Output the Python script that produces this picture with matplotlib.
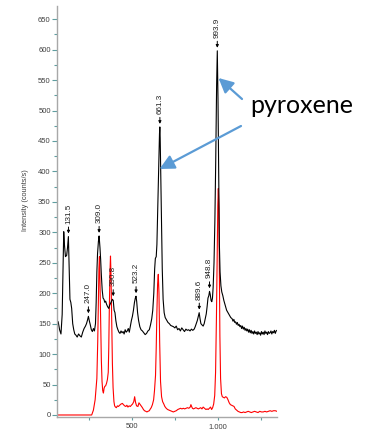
import matplotlib
matplotlib.use("Agg")
import matplotlib.pyplot as plt
from matplotlib.patches import FancyArrowPatch, ArrowStyle
from matplotlib.ticker import FixedLocator, MultipleLocator

# ---------------- data ----------------
black_x = [72, 80, 88, 95, 100, 104, 108, 114, 121, 126, 131, 135, 140, 145, 150, 156, 162, 168, 175, 182,
           190, 198, 206, 214, 222, 230, 236, 242, 247, 252, 258, 264, 270, 276, 282, 288, 292, 296, 300, 305,
           309, 314, 318, 322, 327, 332, 337, 342, 347, 352, 358, 365, 370, 375, 380, 386, 391, 396, 401, 406,
           412, 418, 424, 430, 436, 442, 448, 454, 460, 466, 472, 478, 484, 490, 496, 502, 508, 514, 519, 523,
           527, 532, 538, 545, 552, 560, 568, 576, 584, 592, 600, 607, 614, 620, 626, 631, 635, 640, 644, 648,
           652, 656, 659, 661, 663, 666, 670, 675, 680, 686, 692, 700, 708, 716, 724, 732, 740, 748, 756, 764,
           772, 780, 788, 796, 804, 812, 820, 828, 836, 844, 852, 860, 866, 872, 878, 884, 889, 894, 899, 905,
           912, 918, 924, 930, 935, 940, 945, 949, 953, 958, 962, 966, 970, 975, 980, 985, 990, 994, 998, 1002,
           1006, 1010, 1015, 1020, 1026, 1032, 1040, 1048, 1056, 1064, 1072, 1080, 1085, 1090, 1095, 1100, 1105,
           1110, 1115, 1120, 1125, 1130, 1135, 1140, 1145, 1150, 1155, 1160, 1165, 1170, 1175, 1180, 1185, 1190,
           1195, 1200, 1205, 1210, 1215, 1220, 1225, 1230, 1235, 1240, 1245, 1250, 1255, 1260, 1265, 1270, 1275,
           1280, 1285, 1290, 1295, 1300, 1305, 1310, 1315, 1320, 1325, 1330, 1335, 1340]
black_y = [153, 140, 133, 165, 240, 301, 280, 260, 262, 275, 293, 250, 190, 185, 175, 150, 140, 133, 131, 128,
           133, 130, 128, 136, 142, 146, 150, 156, 162, 155, 148, 140, 137, 142, 138, 150, 185, 235, 265, 285,
           294, 275, 255, 230, 205, 192, 190, 185, 187, 182, 178, 175, 180, 183, 186, 190, 188, 172, 168, 155,
           145, 140, 136, 134, 138, 135, 137, 133, 140, 136, 138, 142, 136, 146, 155, 162, 172, 185, 192, 195,
           186, 168, 155, 145, 140, 138, 135, 132, 134, 138, 140, 148, 158, 172, 200, 240, 257, 260, 280, 330,
           380, 430, 462, 473, 455, 400, 320, 240, 190, 168, 160, 156, 152, 150, 147, 146, 145, 143, 146, 140,
           142, 138, 143, 140, 137, 141, 139, 140, 138, 141, 139, 141, 145, 150, 155, 162, 168, 158, 150, 148,
           146, 150, 158, 166, 178, 192, 196, 203, 198, 188, 186, 192, 210, 250, 320, 420, 540, 598, 520, 400,
           280, 235, 212, 202, 196, 188, 180, 172, 168, 164, 160, 158, 154, 157, 152, 153, 149,
           152, 147, 149, 145, 147, 142, 146, 141, 144, 139, 142, 138, 141, 136, 140, 135, 139,
           134, 137, 133, 138, 134, 136, 132, 137, 133, 135, 131, 137, 133, 136, 132, 138, 134,
           136, 132, 137, 134, 135, 138, 133, 137, 135, 139, 134, 138, 139]

red_x = [65, 150, 266, 276, 286, 296, 301, 305, 308, 311, 314, 318, 322, 326, 330, 334, 338, 342, 347, 352,
         357, 362, 365, 368, 372, 375, 378, 382, 386, 390, 395, 399, 404, 409, 415, 421, 428, 436, 444, 450,
         457, 464, 470, 476, 483, 490, 496, 503, 510, 515, 520, 526, 534, 540, 545, 553, 560, 566, 572, 580,
         586, 592, 600, 606, 611, 618, 625, 630, 636, 640, 644, 648, 652, 656, 660, 665, 671, 677, 684, 690,
         698, 706, 714, 722, 730, 739, 748, 756, 765, 773, 781, 789, 797, 805, 813, 821, 829, 837, 841, 845,
         850, 856, 863, 870, 877, 884, 891, 898, 905, 912, 920, 928, 935, 941, 948, 955, 961, 967, 973, 979,
         984, 989, 993, 997, 1000, 1003, 1006, 1009, 1013, 1018, 1023, 1029, 1035, 1042, 1049, 1056, 1063, 1070,
         1077, 1084, 1091, 1098, 1106, 1114, 1122, 1130, 1138, 1146, 1155, 1164, 1173, 1182, 1191, 1200, 1210,
         1220, 1230, 1240, 1250, 1260, 1270, 1280, 1290, 1300, 1310, 1320, 1330, 1340]
red_y = [0, 0, 0, 8, 25, 60, 120, 190, 240, 260, 220, 150, 90, 55, 40, 36, 44, 47, 48, 52,
         58, 70, 110, 170, 235, 261, 230, 160, 85, 45, 22, 15, 13, 12, 15, 14, 16, 18, 19, 17,
         15, 14, 16, 13, 15, 14, 16, 18, 22, 30, 21, 15, 14, 20, 18, 15, 12, 9, 7, 6,
         5, 6, 7, 10, 12, 17, 25, 40, 65, 110, 170, 215, 231, 200, 120, 55, 30, 22, 18, 14,
         11, 9, 8, 7, 6, 5, 6, 7, 9, 10, 11, 10, 11, 10, 11, 12, 11, 13, 17, 14,
         11, 10, 11, 12, 11, 10, 11, 12, 10, 13, 11, 9, 10, 9, 11, 13, 9, 12, 18, 32,
         70, 160, 260, 345, 372, 340, 240, 130, 60, 35, 30, 29, 28, 30, 29, 25, 20, 17,
         16, 15, 14, 10, 8, 6, 5, 4, 4, 5, 4, 5, 6, 5, 4, 5, 6,
         5, 4, 6, 5, 5, 6, 5, 6, 7, 6, 7, 7, 6]

peak_labels = ['131.5', '247.0', '309.0', '390.8', '523.2', '661.3', '889.6', '948.8', '993.9']
peak_pos = [131.5, 247.0, 309.0, 390.8, 523.2, 661.3, 889.6, 948.8, 993.9]
peak_height = [293, 162, 294, 190, 195, 473, 168, 203, 598]

y_ticks = list(range(0, 651, 50))
x_ticks = [500, 1000]
x_ticklabels = ['500', '1,000']
note_text = 'pyroxene'

# ---------------- figure ----------------
W, H = 385, 429
fig = plt.figure(figsize=(W / 100, H / 100), dpi=100)
ax = fig.add_axes([57 / W, 1 - 417 / H, 220 / W, 411 / H])

ax.plot(red_x, red_y, color='#ff0000', lw=0.8)
ax.plot(black_x, black_y, color='black', lw=0.8)

ax.set_xlim(65, 1340)
ax.set_ylim(-3.3, 671.6)

for s in ['top', 'right']:
    ax.spines[s].set_visible(False)
for s in ['left', 'bottom']:
    ax.spines[s].set_color('#a8a8a8')
    ax.spines[s].set_linewidth(1.0)

tick_col = '#5f9ea0'
lab_col = '#404040'
ax.yaxis.set_major_locator(FixedLocator(y_ticks))
ax.yaxis.set_minor_locator(MultipleLocator(25))
ax.set_yticklabels([str(v) for v in y_ticks])
ax.xaxis.set_major_locator(FixedLocator(x_ticks))
ax.xaxis.set_minor_locator(FixedLocator([250, 750, 1250]))
ax.set_xticklabels(x_ticklabels)
ax.tick_params(axis='y', which='major', length=3.5, width=0.8, color=tick_col,
               labelsize=5.5, labelcolor=lab_col, pad=1)
ax.tick_params(axis='y', which='minor', length=2, width=0.8, color=tick_col)
ax.tick_params(axis='x', which='both', length=2.2, width=0.8, color=tick_col,
               labelsize=5.5, labelcolor=lab_col, pad=2)
for lab in ax.get_xticklabels() + ax.get_yticklabels():
    lab.set_fontfamily('Liberation Sans')

ax.set_ylabel('Intensity (counts/s)', fontsize=5.3, color=lab_col, family='Liberation Sans')
ax.yaxis.set_label_coords(-0.127, 0.528)

for lab, px, ph in zip(peak_labels, peak_pos, peak_height):
    ax.annotate(lab, xy=(px, ph + 5), xytext=(0, 10), textcoords='offset pixels',
                rotation=90, ha='center', va='bottom', fontsize=5.8, color='#202020',
                family='Liberation Sans',
                arrowprops=dict(arrowstyle='-|>', color='black', lw=0.7,
                                mutation_scale=4, shrinkA=0.5, shrinkB=0))

# pyroxene note with blue arrows
fig.text(250 / W, 1 - 113 / H, note_text, fontsize=18, family='Lato',
         ha='left', va='baseline', color='black')
blue = '#5b9bd5'
astyle = ArrowStyle('-|>', head_length=0.8, head_width=0.4)
for (tx, ty), (hx, hy) in [((242, 99), (218.5, 78)), ((241, 126), (159.5, 169))]:
    arr = FancyArrowPatch((tx / W, 1 - ty / H), (hx / W, 1 - hy / H),
                          transform=fig.transFigure, arrowstyle=astyle,
                          mutation_scale=11, color=blue, lw=1.6,
                          shrinkA=0, shrinkB=0)
    fig.add_artist(arr)

fig.savefig('out.png', dpi=100)
